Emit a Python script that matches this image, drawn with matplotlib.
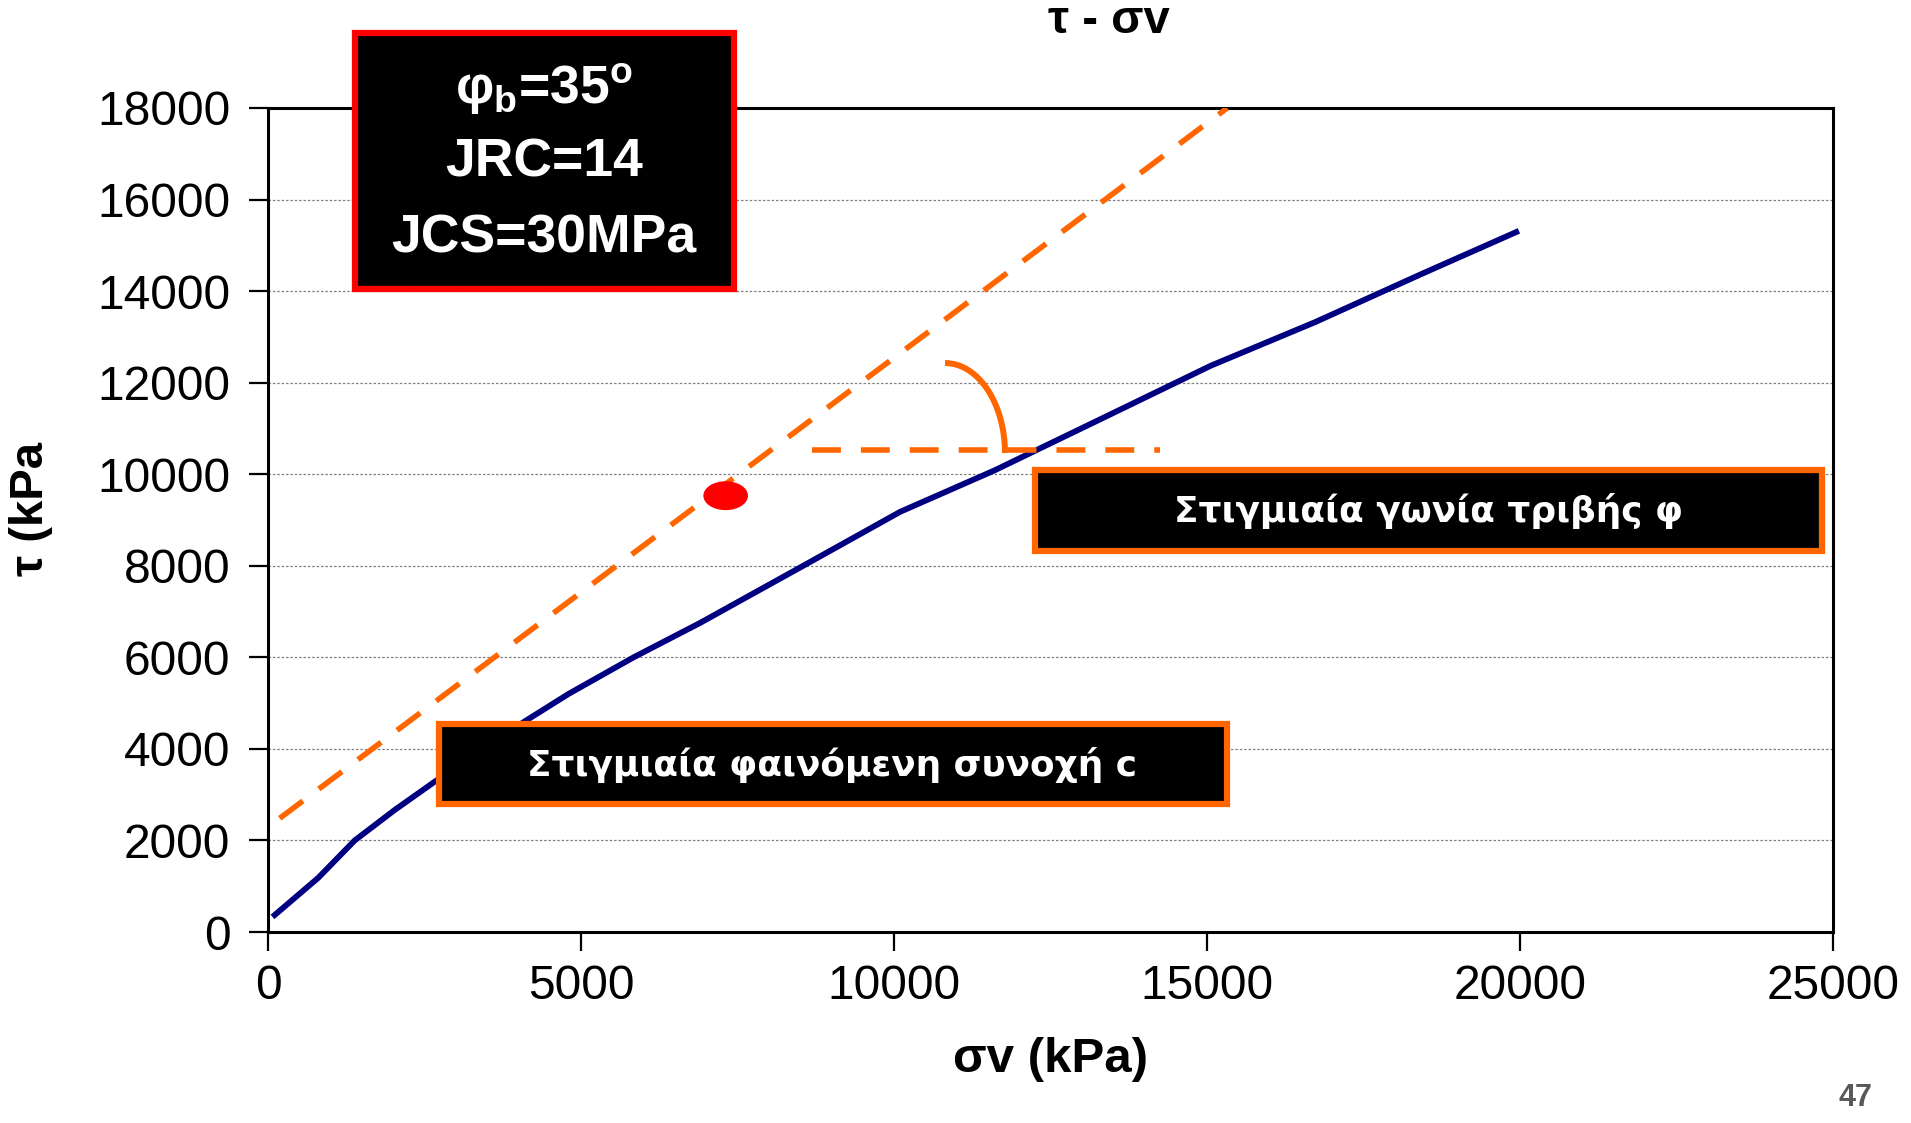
import matplotlib
matplotlib.use("Agg")
import matplotlib.pyplot as plt
from matplotlib.patches import Rectangle, Ellipse, Arc

plt.rcParams['font.family'] = ['Liberation Sans', 'DejaVu Sans']
plt.rcParams['mathtext.fontset'] = 'custom'
plt.rcParams['mathtext.rm'] = 'Liberation Sans'
plt.rcParams['mathtext.bf'] = 'Liberation Sans:bold'

# measured shear stress vs normal stress (kPa)
sigma_v = [107, 800, 1385, 2023, 2663, 4100, 4800, 5840, 6900, 8550,
           10100, 11600, 13370, 15060, 16740, 18420, 19940]
tau = [371, 1180, 2000, 2665, 3284, 4600, 5200, 6000, 6750, 8000,
       9180, 10080, 11250, 12370, 13330, 14370, 15290]

# tangent line (instantaneous friction angle) and its horizontal reference
tangent_sigma = [187, 15323]
tangent_tau = [2484, 18000]
horiz_sigma = [8695, 14249]
horiz_tau = [10528, 10528]

# point of tangency
point_sigma, point_tau = 7311, 9531

x_ticks = [0, 5000, 10000, 15000, 20000, 25000]
y_ticks = list(range(0, 18001, 2000))

orange = '#FF6600'

fig = plt.figure(figsize=(19.11, 11.23), dpi=100)
ax = fig.add_axes([0.14024, 0.17008, 0.81894, 0.73375])

ax.plot(sigma_v, tau, color='#000080', lw=4.2, solid_joinstyle='miter', zorder=3)
ax.plot(tangent_sigma, tangent_tau, color=orange, lw=4, dashes=(5.2, 3.6), zorder=4)
ax.plot(horiz_sigma, horiz_tau, color=orange, lw=4, dashes=(5.2, 3.6), zorder=4)
ax.add_patch(Arc((10815, 10463), 2 * 958, 2 * 1966, theta1=0, theta2=90,
                 color=orange, lw=4.3, zorder=4))
ax.add_patch(Ellipse((point_sigma, point_tau), 690, 600, color='red', zorder=5))

ax.set_xlim(0, 25000)
ax.set_ylim(0, 18000)
ax.set_xticks(x_ticks)
ax.set_yticks(y_ticks)
ax.tick_params(direction='out', length=14, width=1.6, labelsize=34.5, pad=9)
ax.tick_params(axis='y', pad=13)
for s in ax.spines.values():
    s.set_linewidth(2.2)
ax.yaxis.grid(True, color='#808080', lw=0.9, linestyle=(0, (2, 1.5)))
ax.set_axisbelow(True)

fig.text(0.5803, 0.9813, 'τ - σv', ha='center', va='center', fontsize=34, fontweight='bold')
fig.text(0.5498, 0.0561, 'σv (kPa)', ha='center', va='center', fontsize=35.5, fontweight='bold')
fig.text(0.016, 0.5468, 'τ (kPa', ha='center', va='center', fontsize=34,
         fontweight='bold', rotation=90)
fig.text(0.9707, 0.0223, '47', ha='center', va='center', fontsize=22,
         fontweight='bold', color='#595959')

# parameter box
fig.add_artist(Rectangle((0.1856, 0.7427), 0.1983, 0.2280, transform=fig.transFigure,
                         facecolor='black', edgecolor='#FF0000', lw=4.5, zorder=10))
box_txt = dict(ha='center', va='center', color='white', fontsize=38.5,
               fontweight='bold', zorder=11)
fig.text(0.2845, 0.9203, r'φ$_{\mathbf{b}}$=35$^{\mathbf{o}}$', **box_txt)
fig.text(0.2845, 0.8553, 'JRC=14', **box_txt)
fig.text(0.2845, 0.7876, 'JCS=30MPa', **box_txt)

# annotation boxes
lab_txt = dict(ha='center', va='center', color='white', fontsize=25.8,
               fontweight='bold', family='DejaVu Sans', zorder=11)
fig.add_artist(Rectangle((0.5415, 0.5094), 0.4119, 0.0717, transform=fig.transFigure,
                         facecolor='black', edgecolor=orange, lw=4.5, zorder=10))
fig.text(0.7473, 0.5452, 'Στιγμιαία γωνία τριβής φ', **lab_txt)
fig.add_artist(Rectangle((0.2296, 0.2837), 0.4126, 0.0716, transform=fig.transFigure,
                         facecolor='black', edgecolor=orange, lw=4.5, zorder=10))
fig.text(0.4356, 0.3184, 'Στιγμιαία φαινόμενη συνοχή c', **lab_txt)

fig.savefig('out.png', dpi=100)
